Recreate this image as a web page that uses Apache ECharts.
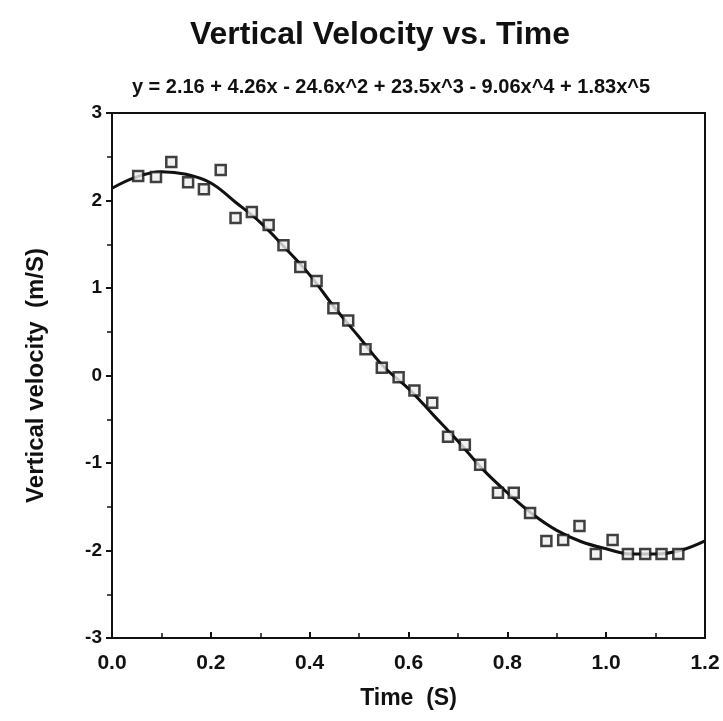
<!DOCTYPE html>
<html><head><meta charset="utf-8">
<script src="https://cdn.jsdelivr.net/npm/echarts@6/dist/echarts.min.js"></script>
<style>html,body{margin:0;padding:0;background:#fff}#c{width:723px;height:721px}</style>
</head><body><div id="c"></div>
<script>
const titleText = 'Vertical Velocity vs. Time';
const equationText = 'y = 2.16 + 4.26x - 24.6x^2 + 23.5x^3 - 9.06x^4 + 1.83x^5';
const xLabel = 'Time  (S)';
const yLabel = 'Vertical velocity  (m/S)';

const timeData = [0.053,0.089,0.120,0.154,0.186,0.220,0.250,0.283,0.317,0.347,0.381,0.414,0.448,0.478,0.513,0.546,0.580,0.612,0.648,0.680,0.714,0.745,0.781,0.813,0.846,0.879,0.913,0.946,0.979,1.013,1.044,1.079,1.112,1.146];
const velocityData = [2.28,2.27,2.44,2.21,2.13,2.35,1.80,1.87,1.72,1.49,1.24,1.08,0.77,0.63,0.30,0.09,-0.02,-0.17,-0.31,-0.70,-0.79,-1.02,-1.34,-1.34,-1.57,-1.89,-1.88,-1.72,-2.04,-1.88,-2.04,-2.04,-2.04,-2.04];

const fitTime = [0,0.05,0.10,0.15,0.20,0.25,0.30,0.35,0.40,0.45,0.50,0.55,0.60,0.65,0.70,0.75,0.80,0.85,0.90,0.95,1.00,1.05,1.10,1.15,1.20];
const fitVelocity = [2.14,2.27,2.33,2.30,2.20,1.98,1.75,1.46,1.15,0.78,0.44,0.10,-0.15,-0.45,-0.75,-1.07,-1.34,-1.58,-1.77,-1.90,-1.98,-2.04,-2.04,-2.00,-1.89];

const xTicks = [0,0.2,0.4,0.6,0.8,1.0,1.2];

const chart = echarts.init(document.getElementById('c'));
const font = '"Liberation Sans", Arial, sans-serif';
chart.setOption({
  backgroundColor: '#fff',
  animation: false,
  title: [
    {text: titleText, left: 375, top: 14, textAlign: 'center',
     textStyle: {fontFamily: font, fontSize: 32, fontWeight: 'bold', color: '#111'}},
    {text: equationText, left: 386, top: 72, textAlign: 'center',
     textStyle: {fontFamily: font, fontSize: 20, fontWeight: 'bold', color: '#111'}}
  ],
  grid: {left: 112, right: 18, top: 113, bottom: 83, show: true, borderColor: '#111', borderWidth: 2, backgroundColor: 'transparent'},
  xAxis: {
    type: 'value', min: 0, max: 1.2, interval: 0.2,
    name: xLabel, nameLocation: 'middle', nameGap: 49,
    nameTextStyle: {fontFamily: font, fontSize: 23, color: '#111', fontWeight: 'bold'},
    axisLine: {show: true, onZero: false, lineStyle: {color: '#111', width: 2}},
    axisTick: {show: true, inside: true, length: 6, lineStyle: {color: '#111', width: 2}},
    minorTick: {show: true, splitNumber: 2, length: 5, lineStyle: {color: '#111', width: 1.5}},
    axisLabel: {fontFamily: font, fontSize: 21, color: '#111', fontWeight: 'bold', margin: 15,
      formatter: v => xTicks.some(t => Math.abs(t - v) < 1e-6) ? v.toFixed(1) : ''},
    splitLine: {show: false}
  },
  yAxis: {
    type: 'value', min: -3, max: 3, interval: 1,
    name: yLabel, nameLocation: 'middle', nameGap: 64,
    nameTextStyle: {fontFamily: font, fontSize: 24, color: '#111', fontWeight: 'bold'},
    axisLine: {show: true, onZero: false, lineStyle: {color: '#111', width: 2}},
    axisTick: {show: true, inside: false, length: 6, lineStyle: {color: '#111', width: 2}},
    minorTick: {show: true, splitNumber: 2, length: 5, lineStyle: {color: '#111', width: 1.5}},
    axisLabel: {fontFamily: font, fontSize: 19, color: '#111', fontWeight: 'bold', margin: 10},
    splitLine: {show: false}
  },
  series: [
    {type: 'line', data: fitTime.map((t, i) => [t, fitVelocity[i]]), smooth: 0.4, showSymbol: false,
     lineStyle: {color: '#111', width: 3}, z: 2},
    {type: 'scatter', data: timeData.map((t, i) => [t, velocityData[i]]), symbol: 'rect', symbolSize: 10,
     itemStyle: {color: '#eee', borderColor: '#111', borderWidth: 2.5}, z: 3}
  ]
});
</script></body></html>
